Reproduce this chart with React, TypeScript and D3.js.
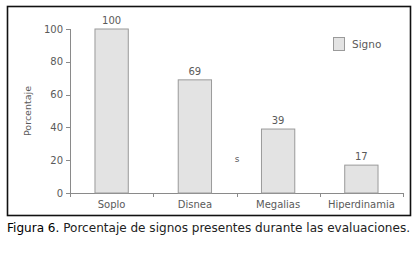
import React from "react";
import * as d3 from "d3";

const categories = ["Soplo", "Disnea", "Megalias", "Hiperdinamia"];
const values = [100, 69, 39, 17];
const yTicks = [0, 20, 40, 60, 80, 100];
const legendLabel = "Signo";
const yTitle = "Porcentaje";

const W = 416;
const H = 253;
const font = "'DejaVu Sans', sans-serif";

export default function App() {
  const left = 70, right = 403, top = 29, bottom = 193;
  const x = d3.scaleBand<string>().domain(categories).range([left, right]).paddingInner(0.6).paddingOuter(0.3);
  const y = d3.scaleLinear().domain([0, 100]).range([bottom, top]);
  const step = x.step();
  const catTicks = d3.range(categories.length + 1).map((i) => left + i * step);
  const textCol = "#5a5a5a";
  const axisCol = "#8a8a8a";
  return (
    <svg width={W} height={H} style={{ position: "absolute", left: 0, top: 0, background: "#fff" }}>
      <rect x={7.5} y={6.5} width={403} height={209} fill="none" stroke="#111" strokeWidth={1.6} />
      {/* y axis */}
      <line x1={left + 0.5} x2={left + 0.5} y1={y(100)} y2={bottom} stroke={axisCol} />
      {yTicks.map((t) => (
        <g key={t}>
          <line x1={left - 4} x2={left} y1={Math.round(y(t)) + 0.5} y2={Math.round(y(t)) + 0.5} stroke={axisCol} />
          <text x={left - 7} y={y(t) + 3.5} textAnchor="end" fontSize={10} fontFamily={font} fill={textCol}>
            {t}
          </text>
        </g>
      ))}
      <text
        transform={`translate(31,${(top + bottom) / 2}) rotate(-90)`}
        textAnchor="middle"
        fontSize={9.5}
        fontFamily={font}
        fill={textCol}
      >
        {yTitle}
      </text>
      {/* x axis */}
      <line x1={left} x2={right} y1={bottom + 0.5} y2={bottom + 0.5} stroke={axisCol} />
      {catTicks.map((cx, i) => (
        <line key={i} x1={Math.round(cx) + 0.5} x2={Math.round(cx) + 0.5} y1={bottom} y2={bottom + 4} stroke={axisCol} />
      ))}
      {categories.map((c, i) => (
        <g key={c}>
          <rect
            x={x(c)!}
            y={y(values[i])}
            width={x.bandwidth()}
            height={bottom - y(values[i])}
            fill="#e3e3e3"
            stroke="#9a9a9a"
            strokeWidth={1}
          />
          <text
            x={x(c)! + x.bandwidth() / 2}
            y={y(values[i]) - 5}
            textAnchor="middle"
            fontSize={10}
            fontFamily={font}
            fill={textCol}
          >
            {values[i]}
          </text>
          <text
            x={x(c)! + x.bandwidth() / 2}
            y={208}
            textAnchor="middle"
            fontSize={10}
            fontFamily={font}
            fill={textCol}
          >
            {c}
          </text>
        </g>
      ))}
      <text x={237} y={162} textAnchor="middle" fontSize={9} fontFamily={font} fill={textCol}>
        s
      </text>
      {/* legend */}
      <rect x={333.5} y={37.5} width={11} height={13} fill="#e3e3e3" stroke="#9a9a9a" />
      <text x={352} y={48} fontSize={10.5} fontFamily={font} fill={textCol}>
        {legendLabel}
      </text>
      {/* caption */}
      <text x={7} y={232} fontSize={12} fontFamily={font} fill="#222" textLength={403} lengthAdjust="spacingAndGlyphs">
        <tspan fill="#000">Figura 6.</tspan>
        <tspan> Porcentaje de signos presentes durante las evaluaciones.</tspan>
      </text>
    </svg>
  );
}
